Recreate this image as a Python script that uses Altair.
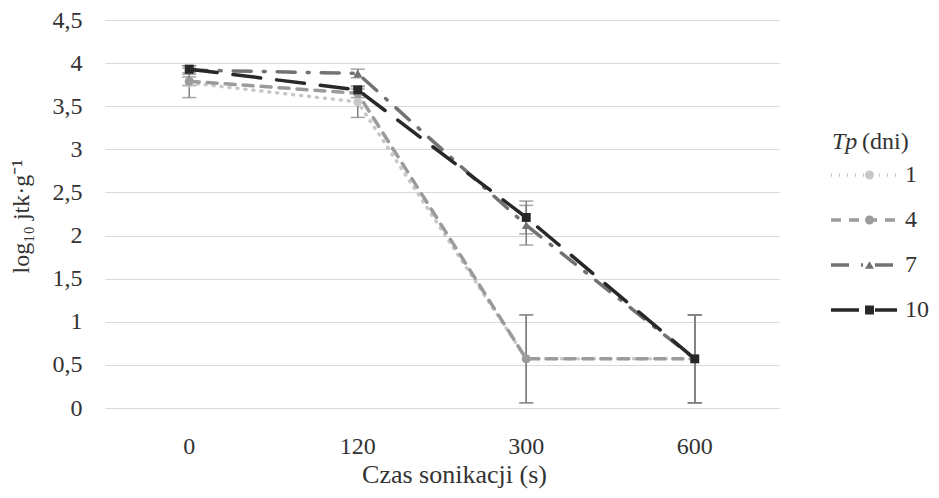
import altair as alt
import pandas as pd

times = ["0", "120", "300", "600"]
series = ["1", "4", "7", "10"]
vals = {
    "1": [3.77, 3.55, 0.57, 0.57],
    "4": [3.79, 3.65, 0.57, 0.57],
    "7": [3.92, 3.88, 2.12, 0.57],
    "10": [3.93, 3.69, 2.21, 0.57],
}
errs = {
    "1": [0.17, 0.18, 0.51, 0.51],
    "4": [0.05, 0.05, 0.51, 0.51],
    "7": [0.05, 0.05, 0.23, 0.51],
    "10": [0.04, 0.04, 0.19, 0.51],
}
colors = ["#c8c8c8", "#9b9b9b", "#727272", "#282828"]
shapes = ["circle", "circle", "triangle-up", "square"]
dashes = [[1, 7], [10, 8], [18, 12, 2, 12], [28, 16]]

rows = []
for i, s in enumerate(series):
    for t, v, e in zip(times, vals[s], errs[s]):
        rows.append({"t": t, "Tp": s, "Tp2": s, "v": v, "lo": v - e, "hi": v + e, "order": i})
df = pd.DataFrame(rows)

FONT = "Liberation Serif"
TXT = "#333333"
x_enc = alt.X("t:N", sort=times, scale=alt.Scale(paddingInner=0, paddingOuter=0),
              axis=alt.Axis(title="Czas sonikacji (s)", labelAngle=0, ticks=False, domain=False,
                            labelPadding=26, titleX=349, titleY=66, titleBaseline="middle",
                            titleFontSize=26))
y_scale = alt.Scale(domain=[0, 4.5], nice=False)

base = alt.Chart(df)

err_rule = base.mark_rule(color="#7f7f7f", strokeWidth=1.5).encode(
    x=x_enc,
    y=alt.Y("lo:Q", scale=y_scale),
    y2="hi:Q",
)
err_lo = base.mark_tick(color="#7f7f7f", thickness=1.5, size=14, orient="horizontal").encode(
    x=alt.X("t:N", sort=times), y=alt.Y("lo:Q", scale=y_scale))
err_hi = base.mark_tick(color="#7f7f7f", thickness=1.5, size=14, orient="horizontal").encode(
    x=alt.X("t:N", sort=times), y=alt.Y("hi:Q", scale=y_scale))

line_legend = alt.Legend(title=None, orient="none", legendX=724, legendY=143,
                         symbolType="stroke", symbolSize=4356, symbolStrokeWidth=3.5,
                         labelFontSize=24, labelFont=FONT, labelColor=TXT,
                         labelOffset=6, clipHeight=24, rowPadding=21)

lines = base.mark_line(strokeWidth=3.5, strokeCap="round").encode(
    x=alt.X("t:N", sort=times),
    y=alt.Y("v:Q", scale=y_scale,
            axis=alt.Axis(title="log₁₀ jtk·g⁻¹", values=[0, 0.5, 1, 1.5, 2, 2.5, 3, 3.5, 4, 4.5],
                          labelExpr="replace(toString(datum.value), '.', ',')",
                          ticks=False, domain=False, labelPadding=23,
                          titleX=-84, titleY=196, titleBaseline="middle", titleAlign="center")),
    color=alt.Color("Tp:N", sort=series, scale=alt.Scale(domain=series, range=colors),
                    legend=line_legend),
    strokeDash=alt.StrokeDash("Tp:N", sort=series, scale=alt.Scale(domain=series, range=dashes),
                              legend=line_legend),
    detail="Tp:N",
    order="order:Q",
)

points = base.mark_point(filled=True, size=80, opacity=1).encode(
    x=alt.X("t:N", sort=times),
    y=alt.Y("v:Q", scale=y_scale),
    color=alt.Color("Tp2:N", sort=series, scale=alt.Scale(domain=series, range=colors),
                    legend=alt.Legend(title=None, orient="none", legendX=752.5, legendY=143,
                                      symbolSize=80, symbolStrokeWidth=0,
                                      labelFontSize=24, labelFont=FONT, labelExpr="''",
                                      labelOffset=6, clipHeight=24, rowPadding=21)),
    shape=alt.Shape("Tp2:N", sort=series, scale=alt.Scale(domain=series, range=shapes)),
)

title_tp = alt.Chart(pd.DataFrame({"s": ["Tp"]})).mark_text(
    align="left", baseline="middle", font=FONT, fontSize=24, fontStyle="italic", color=TXT
).encode(x=alt.value(727), y=alt.value(122), text="s:N")
title_dni = alt.Chart(pd.DataFrame({"s": ["(dni)"]})).mark_text(
    align="left", baseline="middle", font=FONT, fontSize=24, color=TXT
).encode(x=alt.value(757), y=alt.value(122), text="s:N")

chart = alt.layer(err_rule, err_lo, err_hi, lines, points, title_tp, title_dni).resolve_scale(
    color="independent", shape="independent", strokeDash="independent"
).resolve_legend(color="independent", shape="independent", strokeDash="independent").properties(
    width=674, height=388,
    autosize="none",
    padding={"left": 97, "top": 12, "right": 152, "bottom": 82},
).configure_view(stroke=None).configure_axis(
    labelFont=FONT, titleFont=FONT, labelFontSize=24, titleFontSize=24,
    labelColor=TXT, titleColor=TXT, titleFontWeight="normal",
    gridColor="#d9d9d9", gridWidth=1,
).configure_axisX(grid=False)

chart.save("out.html", embed_options={"renderer": "svg", "actions": False})
